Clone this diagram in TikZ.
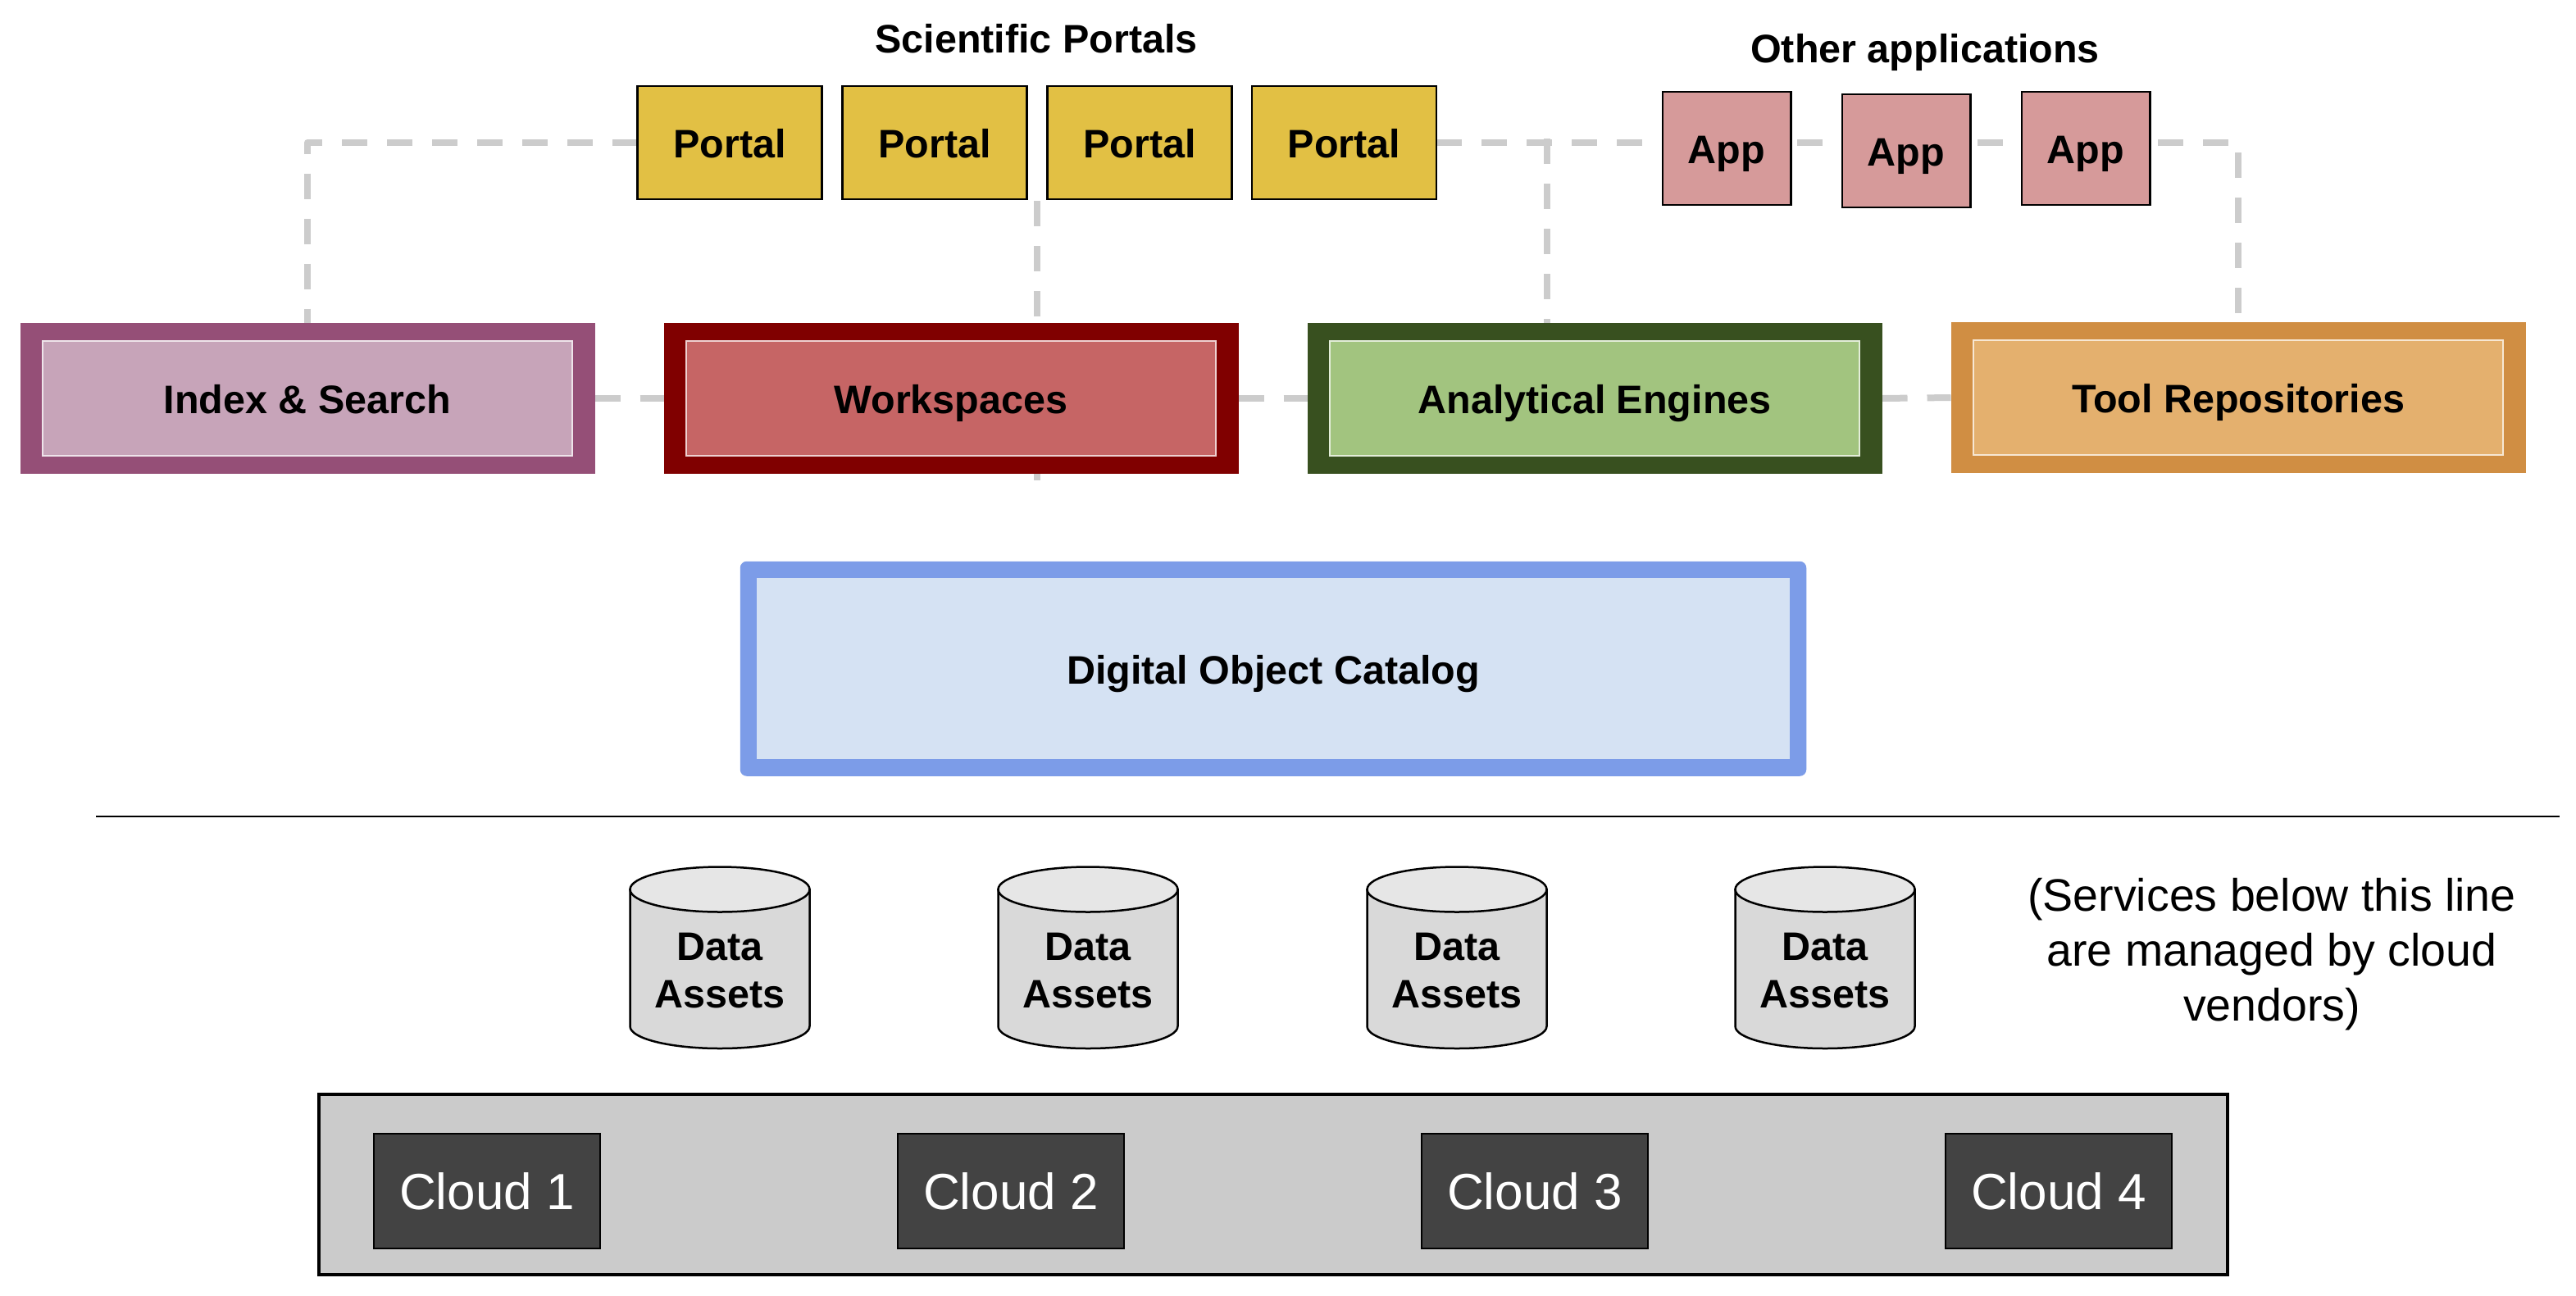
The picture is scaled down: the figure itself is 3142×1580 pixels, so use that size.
\documentclass[tikz,border=0pt]{standalone}
\usepackage{fontspec}
\setmainfont{Liberation Sans}
\usetikzlibrary{calc}
\pgfdeclarelayer{back}
\pgfsetlayers{back,main}
\definecolor{linkgrey}{HTML}{CCCCCC}
\definecolor{portalfill}{HTML}{E2C044}
\definecolor{appfill}{HTML}{D69A9A}
\definecolor{idxout}{HTML}{954F77}
\definecolor{idxin}{HTML}{C7A4B9}
\definecolor{wsout}{HTML}{800000}
\definecolor{wsin}{HTML}{C66565}
\definecolor{aeout}{HTML}{38501F}
\definecolor{aein}{HTML}{A2C47F}
\definecolor{trout}{HTML}{D08E43}
\definecolor{trin}{HTML}{E4B06E}
\definecolor{catline}{HTML}{7C9CE8}
\definecolor{catfill}{HTML}{D5E2F3}
\definecolor{barfill}{HTML}{CBCBCB}
\definecolor{clouddark}{HTML}{434343}
\definecolor{cyltop}{HTML}{E6E6E6}
\definecolor{cylbody}{HTML}{D9D9D9}
\tikzset{
  x=1pt,y=-1pt,
  every node/.style={inner sep=0pt,outer sep=0pt},
  boldtext/.style={font=\fontsize{48.5}{58}\selectfont\bfseries,text height=37pt,text depth=0pt},
  title/.style={boldtext},
  portal/.style={boldtext,draw=black,line width=2.5pt,fill=portalfill,minimum width=225pt,minimum height=138pt},
  appbox/.style={boldtext,draw=black,line width=2.5pt,fill=appfill,minimum width=156.5pt,minimum height=138pt},
  outerbox/.style={fill=#1,minimum width=701pt,minimum height=184pt},
  innerbox/.style={boldtext,fill=#1,draw=white!70!#1,line width=2.5pt,minimum width=646pt,minimum height=140pt},
  catouter/.style={fill=catline,rounded corners=8pt,minimum width=1300.5pt,minimum height=262pt},
  catinner/.style={boldtext,fill=catfill,minimum width=1260pt,minimum height=221pt},
  link/.style={draw=linkgrey,line width=8pt,dash pattern=on 31pt off 24pt,line join=round},
  cylframe/.style={minimum width=219pt,minimum height=221pt},
  cylline/.style={draw=black,line width=2.5pt},
  datatext/.style={font=\fontsize{48.5}{58}\selectfont\bfseries,align=center},
  cloudbar/.style={draw=black,line width=4pt,fill=barfill,minimum width=2328pt,minimum height=220pt},
  cloudbox/.style={draw=black,line width=2pt,fill=clouddark,text=white,font=\fontsize{62}{70}\selectfont,text height=45pt,text depth=0pt,minimum width=276pt,minimum height=140pt},
  note/.style={font=\fontsize{55.5}{67}\selectfont,align=center},
}
% one data cylinder: name, centre x
\newcommand{\datacyl}[2]{%
  \node[cylframe] (#1) at (#2,1168.5) {};
  \path[cylline,fill=cylbody] (#1.west |- 0,1085) -- (#1.west |- 0,1252)
     arc[start angle=180,end angle=360,x radius=109.5pt,y radius=27pt]
     -- (#1.east |- 0,1085) -- cycle;
  \path[cylline,fill=cyltop] (#2,1085) ellipse[x radius=109.5pt,y radius=27.5pt];
  \node[datatext] (#1t) at (#2,1184) {Data\\Assets};
}
\begin{document}
\begin{tikzpicture}
\useasboundingbox (0,0) rectangle (3142,1580);
\begin{pgfonlayer}{back}
\fill[white] (0,0) rectangle (3142,1580);
\end{pgfonlayer}
% titles
\node[title] (tportals) at (1264,46) {Scientific Portals};
\node[title] (tapps) at (2348,58) {Other applications};
% portals
\node[portal] (p1) at (890,174) {Portal};
\node[portal] (p2) at (1140,174) {Portal};
\node[portal] (p3) at (1390,174) {Portal};
\node[portal] (p4) at (1639.5,174) {Portal};
% apps
\node[appbox] (a1) at (2106,181) {App};
\node[appbox] (a2) at (2325,184) {App};
\node[appbox] (a3) at (2544,181) {App};
% services
\node[outerbox=idxout] (idx) at (375,486) {};
\node[innerbox=idxin] (idxi) at (idx.center) {Index \& Search};
\node[outerbox=wsout] (ws) at (1160,486) {};
\node[innerbox=wsin] (wsi) at (ws.center) {Workspaces};
\node[outerbox=aeout] (ae) at (1945,486) {};
\node[innerbox=aein] (aei) at (ae.center) {Analytical Engines};
\node[outerbox=trout] (tr) at (2730,485) {};
\node[innerbox=trin] (tri) at (tr.center) {Tool Repositories};
% catalog
\node[catouter] (cat) at (1553,815.75) {};
\node[catinner] (cati) at (cat.center) {Digital Object Catalog};
% rule
\coordinate (ruleL) at (117,996);
\coordinate (ruleR) at (3122,996);
\draw[black,line width=2.5pt] (ruleL) -- (ruleR);
% data
\datacyl{d1}{878}
\datacyl{d2}{1327}
\datacyl{d3}{1777}
\datacyl{d4}{2226}
\node[note] (svc) at (2771,1164) {(Services below this line\\are managed by cloud\\vendors)};
% clouds
\node[cloudbar] (bar) at (1552.75,1444.5) {};
\node[cloudbox] (c1) at (594,1453) {Cloud 1};
\node[cloudbox] (c2) at (1233,1453) {Cloud 2};
\node[cloudbox] (c3) at (1872,1453) {Cloud 3};
\node[cloudbox] (c4) at (2511,1453) {Cloud 4};
% connectors
\coordinate (wsdown) at (1265,586);
\coordinate (wsup) at (1265,245);
\coordinate (aeup) at (1887,169);
\coordinate (aetop) at ([xshift=-58pt]ae.north);
\begin{pgfonlayer}{back}
\draw[link] (p1.west) -| (idx.north);
\draw[link] (wsup) -- (wsdown);
\draw[link] (p4.east) -- (a1.west |- p4.east) -- (a3.east |- p4.east) -| (tr.north);
\draw[link] (aeup) -- (aetop);
\draw[link] (idx.east) -- (ws.west);
\draw[link] (ws.east) -- (ae.west);
\draw[link] (ae.east) -- (tr.west);
\end{pgfonlayer}
\end{tikzpicture}
\end{document}
